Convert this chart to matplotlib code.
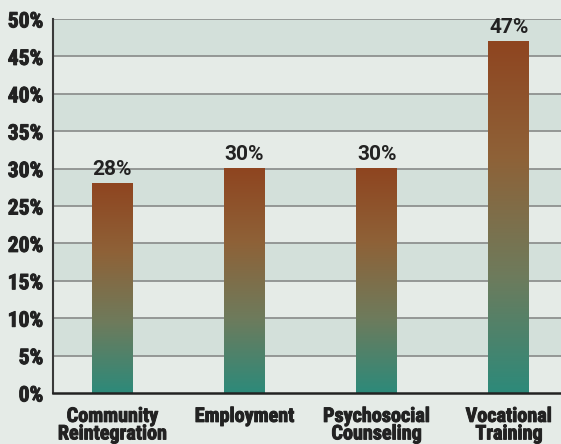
import numpy as np
import matplotlib
matplotlib.use("Agg")
import matplotlib.pyplot as plt
import matplotlib.patheffects as pe
from matplotlib.colors import LinearSegmentedColormap

categories = ["Community\nReintegration", "Employment", "Psychosocial\nCounseling", "Vocational\nTraining"]
values = [28, 30, 30, 47]
y_ticks = [0, 5, 10, 15, 20, 25, 30, 35, 40, 45, 50]

BG = "#e5ebe7"
BAND = "#d3e0da"
TXT = "#222222"
bar_cmap = LinearSegmentedColormap.from_list("bar", ["#2d8a7a", "#6e7b5c", "#8e6238", "#8f4520"])
heavy = [pe.withStroke(linewidth=0.7, foreground=TXT)]

plt.rcParams["font.family"] = ["Roboto Condensed", "DejaVu Sans"]

fig = plt.figure(figsize=(5.61, 4.44), dpi=100, facecolor=BG)
ax = fig.add_axes([53 / 561, 51 / 444, 1 - 53 / 561, 374 / 444])
ax.set_facecolor(BG)

# alternating horizontal bands between the gridlines
for lo in y_ticks[1:-1:2]:
    ax.axhspan(lo, lo + 5, color=BAND, zorder=0, lw=0)
for t in y_ticks[1:]:
    ax.axhline(t, color="#8e918f", lw=1.3, zorder=1)

x = np.arange(len(categories))
width = 0.31
grad = np.linspace(0, 1, 256).reshape(-1, 1)
for xi, v in zip(x, values):
    ax.imshow(grad, cmap=bar_cmap, origin="lower", aspect="auto",
              extent=(xi - width / 2, xi + width / 2, 0, v), zorder=2)
    ax.annotate(f"{v}%", (xi, v), xytext=(0, 3.5), textcoords="offset points",
                ha="center", va="bottom", fontsize=15, fontweight="bold",
                family=["Roboto", "DejaVu Sans"], color=TXT, zorder=3)

ax.set_xlim(-0.45, 3.394)
ax.set_ylim(0, 50)
ax.set_yticks(y_ticks)
ax.set_yticklabels([f"{t}%" for t in y_ticks], fontsize=15.5, fontweight="bold", color=TXT)
ax.set_xticks(x)
ax.set_xticklabels(categories, fontsize=14.5, fontweight="bold", color=TXT, linespacing=0.9)
ax.tick_params(axis="y", length=0, pad=7)
ax.tick_params(axis="x", length=0, pad=10)
for lbl in ax.get_xticklabels() + ax.get_yticklabels():
    lbl.set_path_effects(heavy)

for s in ["top", "right"]:
    ax.spines[s].set_visible(False)
ax.spines["left"].set_color("#3a3a3a")
ax.spines["bottom"].set_color("#222222")
ax.spines["left"].set_linewidth(1.5)
ax.spines["bottom"].set_linewidth(1.8)
ax.spines["left"].set_zorder(4)
ax.spines["bottom"].set_zorder(4)

fig.savefig("out.png", dpi=100, facecolor=BG)
